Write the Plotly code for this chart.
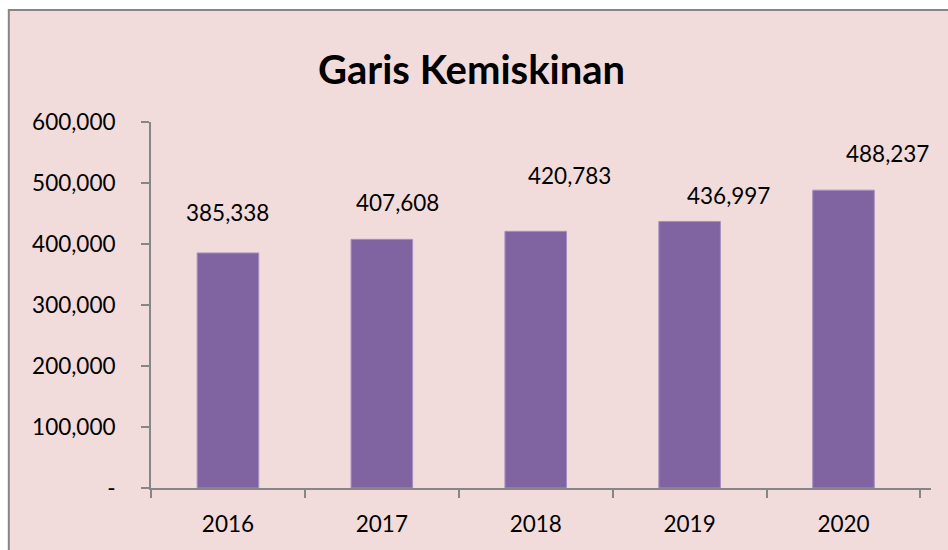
import plotly.graph_objects as go

years = ["2016", "2017", "2018", "2019", "2020"]
garis_kemiskinan = [385338, 407608, 420783, 436997, 488237]
y_ticks = [0, 100000, 200000, 300000, 400000, 500000, 600000]
y_tick_labels = ["-", "100,000", "200,000", "300,000", "400,000", "500,000", "600,000"]

# label nudges (px) as the labels were dragged around in the original chart
label_dx = [0, 16, 34, 39, 44]
label_dy = [40, 37, 56, 26, 37]

FONT = "Lato, 'Open Sans', sans-serif"
BG = "#f2dcdb"
AXIS = "#868686"

fig = go.Figure()

fig.add_trace(
    go.Bar(
        x=years,
        y=garis_kemiskinan,
        width=0.4,
        marker=dict(color="#8064a2", line=dict(color="#a48fc0", width=1)),
        hoverinfo="x+y",
    )
)

# year strings look numeric, so place labels by category index
for i, (val, dx, dy) in enumerate(zip(garis_kemiskinan, label_dx, label_dy)):
    fig.add_annotation(
        x=i, y=val, text=f"{val:,}",
        showarrow=False, xshift=dx, yshift=dy,
        font=dict(family=FONT, size=22.5, color="black"),
    )

# chart area background with grey border (runs past the right/bottom edge)
fig.add_shape(
    type="rect", xref="paper", yref="paper",
    x0=-0.1823, x1=1.03, y0=-0.2, y1=1.306,
    fillcolor=BG, line=dict(color=AXIS, width=2), layer="below",
)

fig.update_layout(
    width=948,
    height=550,
    margin=dict(l=151, r=17, t=122, b=62, autoexpand=False),
    paper_bgcolor="white",
    plot_bgcolor="rgba(0,0,0,0)",
    showlegend=False,
    title=dict(
        text="<b>Garis Kemiskinan</b>",
        x=0.411, xanchor="center", xref="paper",
        y=0.873, yanchor="middle",
        font=dict(family=FONT, size=40, color="black"),
    ),
    font=dict(family=FONT, size=22.5, color="black"),
)

fig.update_xaxes(
    type="category",
    showline=True, linecolor=AXIS, linewidth=2,
    ticks="outside", tickson="boundaries", ticklen=8, tickcolor=AXIS, tickwidth=2,
    showgrid=False, zeroline=False,
    tickfont=dict(family=FONT, size=22.5, color="black"),
    tickangle=0, automargin=False,
    ticklabelstandoff=15,
)

fig.update_yaxes(
    range=[0, 600000],
    tickvals=y_ticks, ticktext=y_tick_labels,
    showline=True, linecolor=AXIS, linewidth=2,
    ticks="outside", ticklen=8, tickcolor=AXIS, tickwidth=2,
    showgrid=False, zeroline=False, automargin=False,
    tickfont=dict(family=FONT, size=22.5, color="black"),
    ticklabelstandoff=21,
)

# drop the default 8px page margin so the 948x550 figure fills the window
fig.write_html(
    "out.html",
    config={"displayModeBar": False},
    post_script="document.body.style.margin = '0';",
)
